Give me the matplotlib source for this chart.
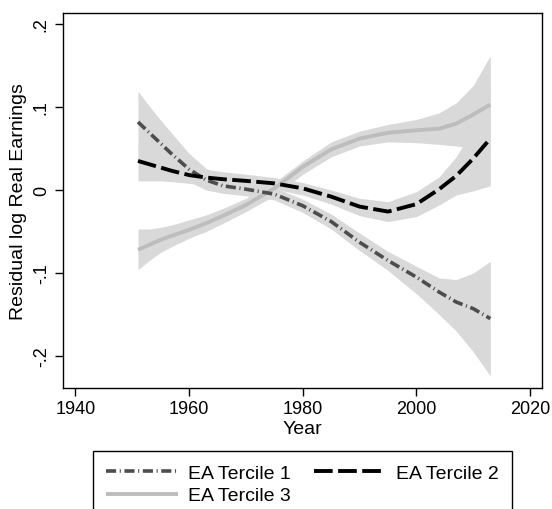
import matplotlib
matplotlib.use("Agg")
import matplotlib.pyplot as plt

plt.rcParams['font.family'] = ['Liberation Sans', 'DejaVu Sans']

# values (fitted curves with 95% bands)
years = [1951, 1953, 1955, 1957, 1960, 1963, 1966, 1970, 1975, 1980,
         1985, 1990, 1995, 2000, 2004, 2007, 2010, 2013]

t1 = [0.082, 0.069, 0.056, 0.043, 0.025, 0.012, 0.005, 0.001, -0.005, -0.019,
      -0.038, -0.063, -0.085, -0.105, -0.123, -0.135, -0.143, -0.155]
t1_hi = [0.119, 0.101, 0.084, 0.068, 0.044, 0.026, 0.016, 0.010, 0.003, -0.011,
         -0.029, -0.052, -0.074, -0.092, -0.106, -0.108, -0.100, -0.086]
t1_lo = [0.046, 0.040, 0.032, 0.024, 0.010, 0.000, -0.004, -0.007, -0.012, -0.027,
         -0.047, -0.073, -0.097, -0.125, -0.150, -0.170, -0.195, -0.224]

t2 = [0.035, 0.031, 0.027, 0.023, 0.018, 0.015, 0.013, 0.011, 0.008, 0.002,
      -0.008, -0.020, -0.026, -0.017, 0.001, 0.017, 0.038, 0.062]
t2_hi = [0.056, 0.049, 0.043, 0.037, 0.030, 0.025, 0.022, 0.019, 0.015, 0.009,
         0.000, -0.010, -0.014, -0.002, 0.016, 0.040, 0.075, 0.120]
t2_lo = [0.011, 0.011, 0.011, 0.010, 0.008, 0.006, 0.005, 0.003, 0.001, -0.006,
         -0.017, -0.031, -0.038, -0.032, -0.018, -0.006, -0.001, 0.005]

t3 = [-0.072, -0.066, -0.060, -0.055, -0.048, -0.040, -0.031, -0.018, 0.002, 0.028,
      0.049, 0.062, 0.069, 0.072, 0.074, 0.080, 0.091, 0.103]
t3_hi = [-0.047, -0.047, -0.045, -0.042, -0.036, -0.030, -0.022, -0.010, 0.009, 0.035,
         0.058, 0.071, 0.079, 0.085, 0.093, 0.105, 0.126, 0.162]
t3_lo = [-0.096, -0.085, -0.075, -0.068, -0.058, -0.050, -0.040, -0.026, -0.007, 0.019,
         0.040, 0.053, 0.058, 0.057, 0.055, 0.053, 0.050, 0.045]

labels = ['EA Tercile 1', 'EA Tercile 2', 'EA Tercile 3']
xticks = [1940, 1960, 1980, 2000, 2020]
yticks = [-0.2, -0.1, 0, 0.1, 0.2]
yticklabels = ['-.2', '-.1', '0', '.1', '.2']

fig = plt.figure(figsize=(5.52, 5.10), dpi=100)
ax = fig.add_axes([0.1141, 0.2373, 0.8678, 0.7352])

band = '#d9d9d9'
ax.fill_between(years, t1_lo, t1_hi, color=band, lw=0)
ax.fill_between(years, t2_lo, t2_hi, color=band, lw=0)
ax.fill_between(years, t3_lo, t3_hi, color=band, lw=0)

l3, = ax.plot(years, t3, color='#bdbdbd', lw=2.8, solid_capstyle='butt', label=labels[2])
l1, = ax.plot(years, t1, color='#4d4d4d', lw=2.6,
              linestyle=(0, (2.8, 1.0, 0.3, 1.0)), dash_capstyle='butt', label=labels[0])
l2, = ax.plot(years, t2, color='black', lw=2.8,
              linestyle=(0, (4.8, 1.4)), dash_capstyle='butt', label=labels[1])

ax.set_xlim(1937.8, 2022.1)
ax.set_ylim(-0.2386, 0.2133)
ax.set_xticks(xticks)
ax.set_yticks(yticks)
ax.set_yticklabels(yticklabels, rotation=90, va='center')
ax.tick_params(axis='both', direction='out', length=5.5, width=1, labelsize=13, pad=3, colors='black')
ax.tick_params(axis='y', pad=4)
for s in ax.spines.values():
    s.set_linewidth(1)
    s.set_color('black')

ax.set_xlabel('Year', fontsize=14, labelpad=2)
ax.set_ylabel('Residual log Real Earnings', fontsize=14, labelpad=4)

# column-major fill: T1, T3 in the first column, T2 in the second
fig.legend(handles=[l1, l3, l2], labels=[labels[0], labels[2], labels[1]],
           ncol=2, loc='upper left',
           bbox_to_anchor=(93 / 552, 1 - 452 / 510), borderaxespad=0,
           fontsize=14, frameon=True, fancybox=False, edgecolor='black',
           framealpha=1, handlelength=3.7, handletextpad=0.5,
           columnspacing=1.2, labelspacing=0.25, borderpad=0.68)
fig.legends[0].get_frame().set_linewidth(1)

fig.savefig('out.png', dpi=100)
